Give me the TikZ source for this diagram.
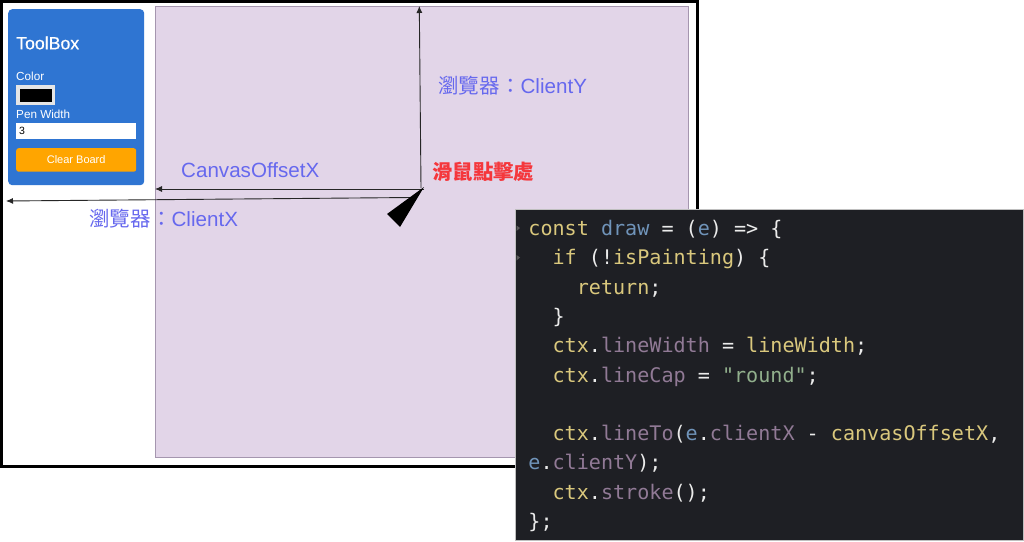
\documentclass[tikz,border=0pt]{standalone}
\usepackage{fontspec}
\setmainfont{Liberation Sans}
\newfontfamily\cjkfont{Noto Sans CJK TC}
\newfontfamily\codefont{DejaVu Sans Mono}
\newfontfamily\titlefont[FakeBold=0.7]{Liberation Sans}
\usetikzlibrary{arrows.meta}
\definecolor{canvaspurple}{RGB}{226, 213, 232}
\definecolor{canvasborder}{RGB}{165, 150, 175}
\definecolor{toolblue}{RGB}{47, 117, 210}
\definecolor{buttonorange}{RGB}{255, 165, 0}
\definecolor{labelblue}{RGB}{102, 104, 238}
\definecolor{labelred}{RGB}{245, 55, 60}
\definecolor{codebg}{RGB}{30, 31, 36}
\definecolor{codeyellow}{RGB}{218, 200, 125}
\definecolor{codeblue}{RGB}{112, 148, 186}
\definecolor{codemauve}{RGB}{145, 122, 150}
\definecolor{codewhite}{RGB}{235, 235, 235}
\definecolor{codegreen}{RGB}{145, 175, 140}
\newcommand{\cy}[1]{\textcolor{codeyellow}{#1}}
\newcommand{\cb}[1]{\textcolor{codeblue}{#1}}
\newcommand{\cm}[1]{\textcolor{codemauve}{#1}}
\newcommand{\cg}[1]{\textcolor{codegreen}{#1}}
\newcommand{\codeindent}{\hspace*{24.2pt}}
\tikzset{
    toollabel/.style={anchor=west, inner sep=0pt, text=white, font=\fontsize{11.7}{14}\selectfont},
    axislabel/.style={anchor=west, inner sep=0pt, text=labelblue, font=\fontsize{20.6}{24}\selectfont},
    axisarrow/.style={draw=black!85, line width=0.9pt, -{Latex[length=7pt,width=6pt]}},
}

\begin{document}
\begin{tikzpicture}[x=1pt, y=-1pt]

        \useasboundingbox (0,0) rectangle (1024,541);
        \fill[white] (0,0) rectangle (1024,541);

        % Browser window and canvas
        \node[draw=black, line width=3pt, fill=white, minimum width=696pt, minimum height=465pt, anchor=north west] (browserBox) at (0,0) {};
        \node[draw=canvasborder, line width=0.8pt, fill=canvaspurple, minimum width=533pt, minimum height=451pt, anchor=north west] (canvasBox) at (155,6) {};

        % ToolBox panel
        \node[fill=toolblue, rounded corners=4pt, minimum width=136pt, minimum height=176pt, anchor=north west] (toolBox) at (8,9) {};
        \node[toollabel, font=\titlefont\fontsize{17.7}{20}\selectfont] (toolTitle) at (16,43) {ToolBox};
        \node[toollabel] (colorLabel) at (16,76.5) {Color};
        \node[draw=black!10, line width=3.5pt, fill=black, minimum width=35.5pt, minimum height=16.5pt, inner sep=0pt, anchor=north west] (colorSwatch) at (16,85) {};
        \node[toollabel] (widthLabel) at (16,114.5) {Pen Width};
        \node[fill=white, minimum width=120pt, minimum height=16pt, anchor=north west, inner xsep=3pt, inner ysep=0pt, text width=114pt, font=\fontsize{10.5}{12}\selectfont] (widthInput) at (16,123) {3};
        \node[fill=buttonorange, rounded corners=2.5pt, minimum width=120pt, minimum height=23.5pt, inner sep=0pt, anchor=north west, text=white, font=\fontsize{11}{13}\selectfont] (clearButton) at (16,148) {Clear Board};

        % Arrows from the click point
        \coordinate (clickX) at (424,189);
        \coordinate (clickXb) at (412,197.5);
        \coordinate (clickY) at (421,188);
        \coordinate (offsetEnd) at (canvasBox.west |- clickX);
        \coordinate (clientXEnd) at (6,201);
        \coordinate (clientYEnd) at (419.3,6);
        \draw[axisarrow] (clickX) -- (offsetEnd);
        \draw[axisarrow] (clickXb) -- (clientXEnd);
        \draw[axisarrow] (clickY) -- (clientYEnd);
        \fill[black] (424,187) -- (387,214) -- (400,227) -- cycle;

        % Labels
        \node[axislabel] (offsetLabel) at (181,170) {CanvasOffsetX};
        \node[axislabel] (clientXLabel) at (89,219) {{\cjkfont 瀏覽器：}ClientX};
        \node[axislabel] (clientYLabel) at (438,86) {{\cjkfont 瀏覽器：}ClientY};
        \node[anchor=west, inner sep=0pt, text=labelred, font=\cjkfont\bfseries\fontsize{20.4}{24}\selectfont] (clickLabel) at (432,172) {滑鼠點擊處};

        % Code panel
        \node[fill=codebg, draw=black!25, line width=0.5pt, minimum width=508pt, minimum height=331pt, anchor=north west] (codeBox) at (515.2,209.3) {};
        \fill[black!65] (516.5,225.5) -- (520,228) -- (516.5,231) -- cycle;
        \fill[black!65] (516.5,255) -- (520,257.5) -- (516.5,260.5) -- cycle;
        \node[inner sep=0pt, anchor=west, text width=482pt, align=left, text=codewhite, font=\codefont\fontsize{20.1}{29.3}\selectfont] (codeText) at ([xshift=13pt, yshift=-1pt]codeBox.west) {%
            \spaceskip=12.1pt\relax
            \cy{const} \cb{draw} = (\cb{e}) => \{ \\
            \codeindent\cy{if} (!\cy{isPainting}) \{ \\
            \codeindent\codeindent\cy{return}; \\
            \codeindent\} \\
            \codeindent\cy{ctx}.\cm{lineWidth} = \cy{lineWidth}; \\
            \codeindent\cy{ctx}.\cm{lineCap} = \cg{"round"}; \\
            \mbox{} \\
            \codeindent\cy{ctx}.\cm{lineTo}(\cb{e}.\cm{clientX} - \cy{canvasOffsetX}, \\
            \cb{e}.\cm{clientY}); \\
            \codeindent\cy{ctx}.\cm{stroke}(); \\
            \};
        };

    \end{tikzpicture}
\end{document}
